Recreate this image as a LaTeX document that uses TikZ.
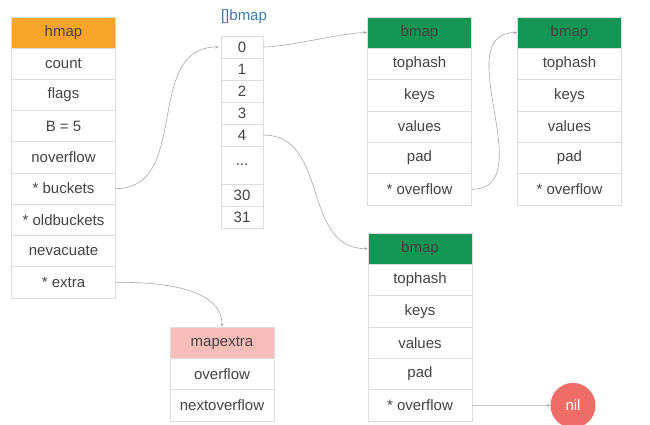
\documentclass[tikz,border=0pt]{standalone}
\usepackage{fontspec}
\setmainfont{Liberation Sans}
\usetikzlibrary{arrows.meta}
\definecolor{hdrorange}{HTML}{F7A52B}
\definecolor{hdrgreen}{HTML}{139653}
\definecolor{hdrpink}{HTML}{F9BDBA}
\definecolor{nilred}{HTML}{EE6D67}
\definecolor{cellline}{HTML}{DCDCDC}
\definecolor{celltext}{HTML}{434343}
\definecolor{arrayblue}{HTML}{3A7BB0}
\definecolor{linkgray}{HTML}{A8A8A8}
\tikzset{
  cell/.style={draw=cellline, line width=0.7pt, fill=white, rectangle,
    inner sep=0pt, text=celltext, font=\fontsize{15}{18}\selectfont},
  field/.style={cell, minimum width=104pt, minimum height=31.3pt},
  slot/.style={cell, minimum width=42pt, minimum height=22pt},
  orangehead/.style={field, fill=hdrorange},
  greenhead/.style={field, fill=hdrgreen, text=black!75},
  pinkhead/.style={field, fill=hdrpink},
  link/.style={draw=linkgray, line width=0.6pt, -{Stealth[length=3.5pt,width=3pt]}},
}
\begin{document}
\begin{tikzpicture}[x=1pt,y=-1pt]
\useasboundingbox (0,0) rectangle (650,424);
\fill[white] (0,0) rectangle (650,424);

% hmap struct
\node[orangehead] (h0) at (63.5,32.6) {hmap};
\foreach \lbl [count=\i] in {count,flags,B = 5,noverflow,* buckets,* oldbuckets,nevacuate,* extra}
  \node[field] (h\i) at (63.5,{32.6+31.2*\i}) {\lbl};

% bucket array
\node[text=arrayblue, font=\fontsize{15}{18}\selectfont] (arr) at (244,17) {[]bmap};
\node[slot] (a0) at (242,47) {0};
\node[slot] (a1) at (242,69) {1};
\node[slot] (a2) at (242,91) {2};
\node[slot] (a3) at (242,113) {3};
\node[slot] (a4) at (242,135) {4};
\node[slot, minimum height=38pt] (adots) at (242,165) {...};
\node[slot] (a30) at (242,195) {30};
\node[slot] (a31) at (242,217) {31};

% bucket 0
\node[greenhead] (b0) at (419.5,32.6) {bmap};
\foreach \lbl [count=\i] in {tophash,keys,values,pad,* overflow}
  \node[field] (b\i) at (419.5,{32.6+31.33*\i}) {\lbl};

% overflow bucket of bucket 0
\node[greenhead] (d0) at (569.5,32.6) {bmap};
\foreach \lbl [count=\i] in {tophash,keys,values,pad,* overflow}
  \node[field] (d\i) at (569.5,{32.6+31.33*\i}) {\lbl};

% bucket 4
\node[greenhead] (c0) at (420,248.7) {bmap};
\foreach \lbl [count=\i] in {tophash,keys,values,pad,* overflow}
  \node[field] (c\i) at (420,{248.7+31.33*\i}) {\lbl};

% mapextra
\node[pinkhead] (e0) at (222,342.7) {mapextra};
\node[field] (e1) at (222,374) {overflow};
\node[field] (e2) at (222,405.3) {nextoverflow};

% nil terminator
\node[circle, fill=nilred, minimum size=45pt, inner sep=0pt, text=white,
  font=\fontsize{15}{18}\selectfont] (nil) at (573,405.4) {nil};

% pointers
\draw[link] (h5.east) to[out=0,in=180,looseness=1.1] ([xshift=-2pt]a0.west);
\draw[link] (a0.east) to[out=0,in=180,looseness=0.6] (b0.west);
\draw[link] (a4.east) to[out=0,in=180,looseness=1.1] (c0.west);
\draw[link] (b5.east) to[out=0,in=180,looseness=1.1] (d0.west);
\draw[link] (h8.east) to[out=0,in=90,looseness=0.9] (e0.north);
\draw[link] (c5.east) -- (nil.west);
\end{tikzpicture}
\end{document}
